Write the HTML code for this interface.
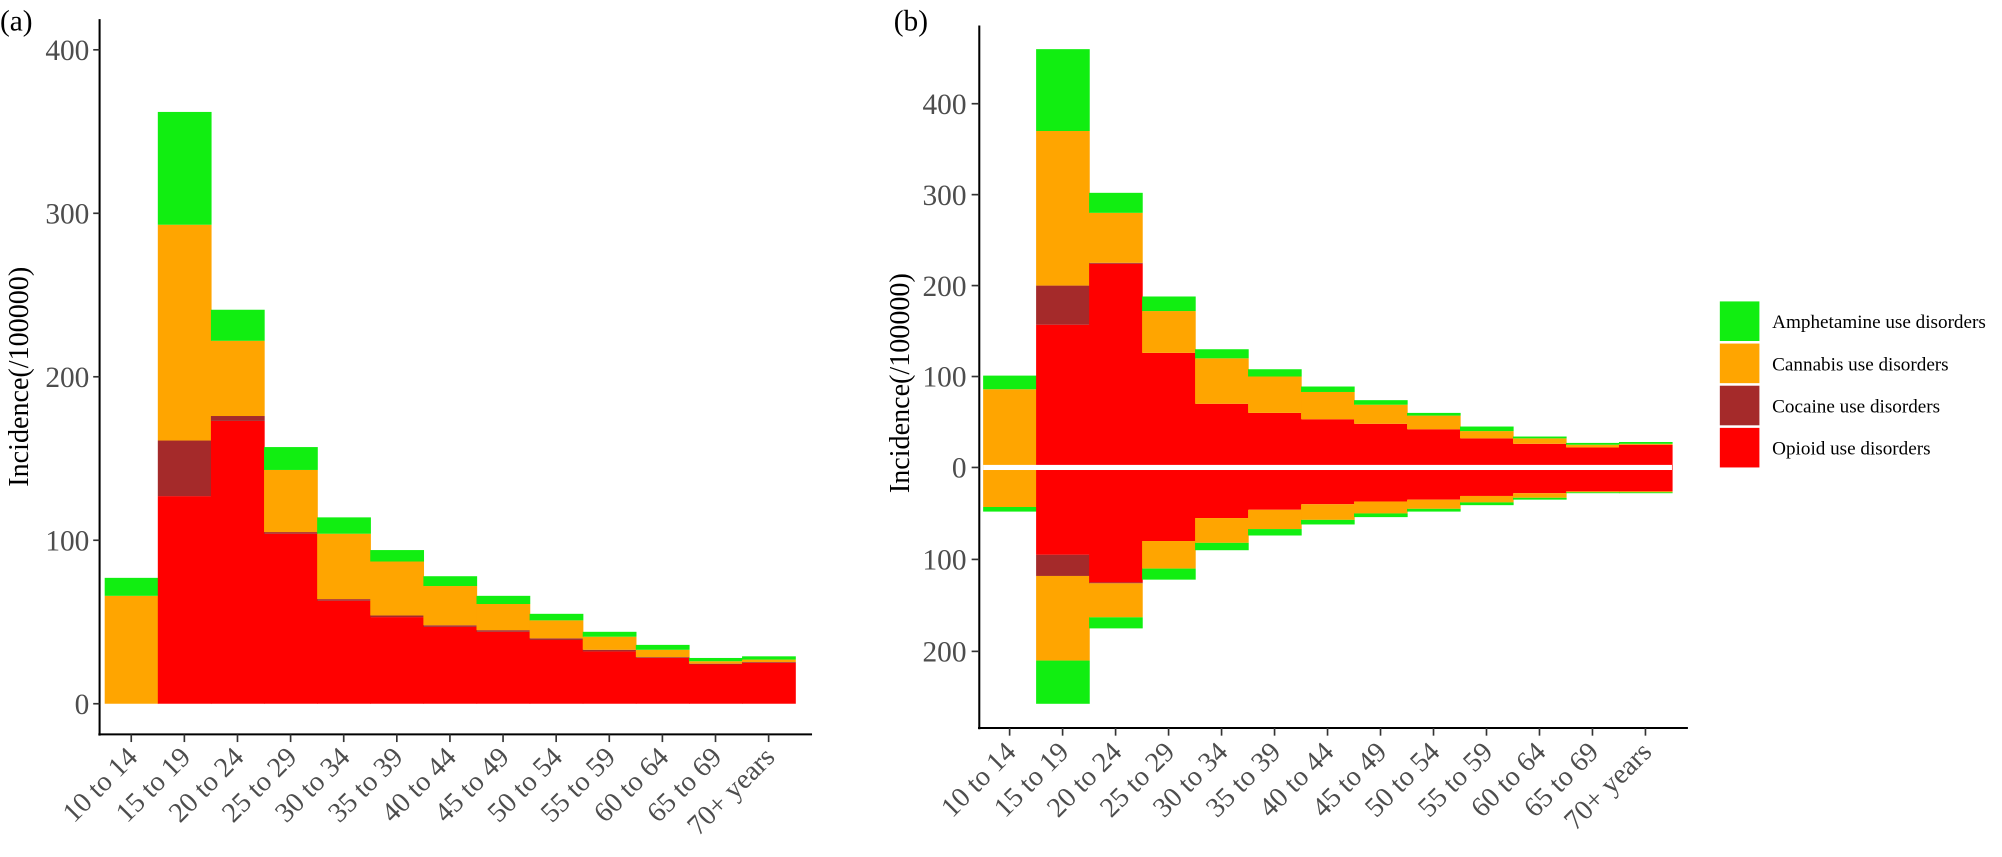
<!DOCTYPE html>
<html><head><meta charset="utf-8"><style>
body{margin:0;background:#fff}
svg{display:block;font-family:"Liberation Serif",serif}
</style></head><body>
<svg id="c" width="2002" height="857" viewBox="0 0 1568 671" preserveAspectRatio="none"></svg>
<script>
const categories=["10 to 14","15 to 19","20 to 24","25 to 29","30 to 34","35 to 39","40 to 44","45 to 49","50 to 54","55 to 59","60 to 64","65 to 69","70+ years"];
// panel a (component heights)
const aOpioid=[0,127,173,104,63,53,47,44,39,32,28,24,25];
const aCocaine=[0,34,3,1,1,1,1,1,1,1,0.5,0.5,0.5];
const aCannabis=[66,132,46,38,40,33,24,16,11,8,4.5,1.5,1.5];
const aAmph=[11,69,19,14,10,7,6,5,4,3,3,2,2];
// panel b upper
const bOpioid=[0,157,224,126,70,60,53,48,42,32,26,22,25];
const bCocaine=[0,43,1,0,0,0,0,0,0,0,0,0,0];
const bCannabis=[86,170,55,46,50,40,30,21,15,8,6,3,1];
const bAmph=[15,90,22,16,10,8,6,5,3,5,2,2,2];
// panel b lower
const lOpioid=[0,95,125,80,55,46,40,37,35,31,28,26,26];
const lCocaine=[0,23,1,0,0,0,0,0,0,0,0,0,0];
const lCannabis=[43,92,37,30,27,21,17,13,10,7,5,1,1];
const lAmph=[5,47,12,12,8,7,5,4,3,3,2,1,1];
const aTicks=[0,100,200,300,400];
const bTicksUp=[0,100,200,300,400];
const bTicksDown=[100,200];
const seriesNames=["Amphetamine use disorders","Cannabis use disorders","Cocaine use disorders","Opioid use disorders"];
const colors={amph:"#11ee11",can:"#ffa500",coc:"#a52a2a",op:"#ff0000"};
const svg=document.getElementById('c');
const NS="http://www.w3.org/2000/svg";
function mk(tag,attrs,parent){const e=document.createElementNS(NS,tag);for(const k in attrs)e.setAttribute(k,attrs[k]);(parent||svg).appendChild(e);return e;}
function txt(s,attrs,parent){const e=mk('text',attrs,parent);e.textContent=s;return e;}

// ---- panel a ----
const ga=mk('g',{});


const aX0=82,aBW=41.6,aY0=551,aK=1.28;
const ax=i=>aX0+i*aBW;
const ay=v=>aY0-v*aK;
categories.forEach((c,i)=>{
  let base=0;
  [[aOpioid,'op'],[aCocaine,'coc'],[aCannabis,'can'],[aAmph,'amph']].forEach(([arr,k])=>{
    const v=arr[i];if(v<=0)return;
    const r=mk('rect',{x:ax(i),y:ay(base+v),width:aBW+0.5,height:v*aK,fill:colors[k]},ga);
    
    
    base+=v;
  });
});
mk('line',{x1:78,y1:15,x2:78,y2:576,stroke:'#000','stroke-width':1.6},ga);
mk('line',{x1:77,y1:575,x2:636,y2:575,stroke:'#000','stroke-width':1.6},ga);
aTicks.forEach(t=>{
  mk('line',{x1:73,y1:ay(t),x2:78,y2:ay(t),stroke:'#333','stroke-width':1.3},ga);
  const l=txt(String(t),{x:70,y:ay(t)+8,'text-anchor':'end','font-size':23,fill:'#4d4d4d'},ga);
  
  
});
categories.forEach((c,i)=>{
  const cx=ax(i)+aBW/2;
  mk('line',{x1:cx,y1:575,x2:cx,y2:581,stroke:'#333','stroke-width':1.3},ga);
  const l=txt(c,{x:cx+6,y:594,'text-anchor':'end','font-size':22,fill:'#4d4d4d',transform:`rotate(-45 ${cx+6} 594)`},ga);
  
  
});
const yta=txt('Incidence(/100000)',{x:0,y:0,'text-anchor':'middle','font-size':22,fill:'#000',transform:'translate(22 295) rotate(-90)'},ga);


const pa=txt('(a)',{x:0,y:24,'font-size':23},ga);



// ---- panel b ----
const gb=mk('g',{});


const bX0=770,bBW=41.5,bY0=366,bKu=0.712,bKd=0.72;
const bx=i=>bX0+i*bBW;
const byU=v=>bY0-v*bKu;
const byD=v=>bY0+v*bKd;
categories.forEach((c,i)=>{
  let base=0;
  [[bOpioid,'op'],[bCocaine,'coc'],[bCannabis,'can'],[bAmph,'amph']].forEach(([arr,k])=>{
    const v=arr[i];if(v<=0)return;
    const r=mk('rect',{x:bx(i),y:byU(base+v),width:bBW+0.5,height:v*bKu,fill:colors[k]},gb);
    
    
    base+=v;
  });
  base=0;
  [[lOpioid,'op'],[lCocaine,'coc'],[lCannabis,'can'],[lAmph,'amph']].forEach(([arr,k])=>{
    const v=arr[i];if(v<=0)return;
    const r=mk('rect',{x:bx(i),y:byD(base),width:bBW+0.5,height:v*bKd,fill:colors[k]},gb);
    
    
    base+=v;
  });
});
mk('rect',{x:bX0,y:bY0-2,width:13*bBW,height:4,fill:'#fff'},gb);
mk('line',{x1:767,y1:20,x2:767,y2:571,stroke:'#000','stroke-width':1.6},gb);
mk('line',{x1:766,y1:570,x2:1322,y2:570,stroke:'#000','stroke-width':1.6},gb);
bTicksUp.forEach(t=>{
  mk('line',{x1:761,y1:byU(t),x2:767,y2:byU(t),stroke:'#333','stroke-width':1.3},gb);
  const l=txt(String(t),{x:757,y:byU(t)+8,'text-anchor':'end','font-size':23,fill:'#4d4d4d'},gb);
  
  
});
bTicksDown.forEach(t=>{
  mk('line',{x1:761,y1:byD(t),x2:767,y2:byD(t),stroke:'#333','stroke-width':1.3},gb);
  const l=txt(String(t),{x:757,y:byD(t)+8,'text-anchor':'end','font-size':23,fill:'#4d4d4d'},gb);
  
  
});
categories.forEach((c,i)=>{
  const cx=bx(i)+bBW/2;
  mk('line',{x1:cx,y1:570,x2:cx,y2:576,stroke:'#333','stroke-width':1.3},gb);
  const l=txt(c,{x:cx+6,y:590,'text-anchor':'end','font-size':22,fill:'#4d4d4d',transform:`rotate(-45 ${cx+6} 590)`},gb);
  
  
});
const ytb=txt('Incidence(/100000)',{x:0,y:0,'text-anchor':'middle','font-size':22,fill:'#000',transform:'translate(712 300) rotate(-90)'},gb);


const pb=txt('(b)',{x:700,y:24,'font-size':23},gb);



// legend
const lg=mk('g',{});


const lkeys=['amph','can','coc','op'];
seriesNames.forEach((n,i)=>{
  const y=236+i*33;
  const r=mk('rect',{x:1347,y:y,width:31,height:31,fill:colors[lkeys[i]]},lg);
  
  
  const t=txt(n,{x:1388,y:y+21,'font-size':15,fill:'#000'},lg);
  
  
});
</script>
</body></html>
